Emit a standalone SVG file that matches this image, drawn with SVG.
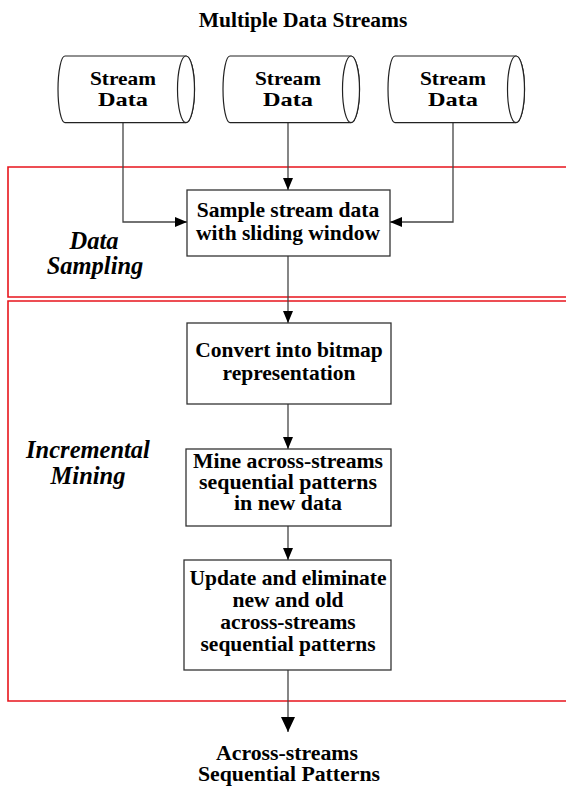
<svg xmlns="http://www.w3.org/2000/svg" width="566" height="789" viewBox="0 0 566 789">
  <style>
    .t { font-family: "Liberation Serif", "Times New Roman", serif; font-weight: bold; font-size: 21.5px; fill: #000; text-anchor: middle; }
    .cs { font-size: 19.5px; }
    .tight { font-size: 20px; }
    .lab { font-family: "Liberation Serif", "Times New Roman", serif; font-weight: bold; font-style: italic; font-size: 24.5px; fill: #000; text-anchor: middle; }
    .box { fill: #fff; stroke: #333; stroke-width: 1.3; }
    .cyl { fill: #fff; stroke: #222; stroke-width: 1.2; }
    .frame { fill: none; stroke: #e8141c; stroke-width: 1.6; }
    .wire { fill: none; stroke: #444; stroke-width: 1.3; }
  </style>
  <defs>
    <marker id="arr" viewBox="0 0 12 10" refX="12" refY="5" markerWidth="12" markerHeight="10" markerUnits="userSpaceOnUse" orient="auto">
      <path d="M0,0 L12,5 L0,10 Z" fill="#000"/>
    </marker>
    <marker id="arrBig" viewBox="0 0 15 14" refX="15" refY="7" markerWidth="15" markerHeight="14" markerUnits="userSpaceOnUse" orient="auto">
      <path d="M0,0 L15,7 L0,14 Z" fill="#000"/>
    </marker>
    <g id="cylShape">
      <path class="cyl" d="M65,56 L186,56 A8.5,33.3 0 0 1 186,122.6 L65,122.6 A7,33.3 0 0 1 65,56 Z"/>
      <ellipse class="cyl" cx="186" cy="89.3" rx="8.5" ry="33.3" fill="none"/>
    </g>
  </defs>

  <rect width="566" height="789" fill="#fff"/>

  <!-- title -->
  <text class="t" x="303" y="27">Multiple Data Streams</text>

  <!-- phase frames (open on the right) -->
  <g id="phase-sampling">
    <path class="frame" d="M570,167 L8,167 L8,297 L570,297"/>
    <text class="lab" x="94" y="249">Data</text>
    <text class="lab" x="95" y="274">Sampling</text>
  </g>
  <g id="phase-mining">
    <path class="frame" d="M570,301 L8,301 L8,701 L570,701"/>
    <text class="lab" x="88" y="458">Incremental</text>
    <text class="lab" x="88" y="484">Mining</text>
  </g>

  <!-- connectors -->
  <g id="connectors">
    <path class="wire" d="M123,122.6 L123,222 L187,222" marker-end="url(#arr)"/>
    <path class="wire" d="M288,122.6 L288,190" marker-end="url(#arr)"/>
    <path class="wire" d="M453,122.6 L453,222 L390,222" marker-end="url(#arr)"/>
    <path class="wire" d="M288,256 L288,323" marker-end="url(#arr)"/>
    <path class="wire" d="M288,404 L288,449" marker-end="url(#arr)"/>
    <path class="wire" d="M288,526 L288,560" marker-end="url(#arr)"/>
    <path class="wire" d="M288,670 L288,732" stroke="#000" marker-end="url(#arrBig)"/>
  </g>

  <!-- source streams -->
  <g id="stream-1">
    <use href="#cylShape"/>
    <text class="t cs" x="123" y="85" textLength="66" lengthAdjust="spacingAndGlyphs">Stream</text>
    <text class="t cs" x="123" y="106" textLength="50" lengthAdjust="spacingAndGlyphs">Data</text>
  </g>
  <g id="stream-2">
    <use href="#cylShape" transform="translate(165,0)"/>
    <text class="t cs" x="288" y="85" textLength="66" lengthAdjust="spacingAndGlyphs">Stream</text>
    <text class="t cs" x="288" y="106" textLength="50" lengthAdjust="spacingAndGlyphs">Data</text>
  </g>
  <g id="stream-3">
    <use href="#cylShape" transform="translate(330,0)"/>
    <text class="t cs" x="453" y="85" textLength="66" lengthAdjust="spacingAndGlyphs">Stream</text>
    <text class="t cs" x="453" y="106" textLength="50" lengthAdjust="spacingAndGlyphs">Data</text>
  </g>

  <!-- processing steps -->
  <g id="sample">
    <rect class="box" x="187" y="190" width="203" height="66"/>
    <text class="t" x="288" y="217">Sample stream data</text>
    <text class="t" x="288" y="240">with sliding window</text>
  </g>
  <g id="convert">
    <rect class="box" x="187" y="323" width="204" height="81"/>
    <text class="t" x="289" y="357">Convert into bitmap</text>
    <text class="t" x="289" y="380">representation</text>
  </g>
  <g id="mine">
    <rect class="box" x="186" y="449" width="205" height="77"/>
    <text class="t tight" x="288" y="468" textLength="190" lengthAdjust="spacingAndGlyphs">Mine across-streams</text>
    <text class="t tight" x="288" y="489" textLength="178" lengthAdjust="spacingAndGlyphs">sequential patterns</text>
    <text class="t tight" x="288" y="510" textLength="108" lengthAdjust="spacingAndGlyphs">in new data</text>
  </g>
  <g id="update">
    <rect class="box" x="184" y="560" width="207" height="110"/>
    <text class="t" x="288" y="585">Update and eliminate</text>
    <text class="t" x="288" y="607">new and old</text>
    <text class="t" x="288" y="629">across-streams</text>
    <text class="t" x="288" y="651">sequential patterns</text>
  </g>

  <!-- output -->
  <g id="output">
    <text class="t tight" x="287" y="760" textLength="142" lengthAdjust="spacingAndGlyphs">Across-streams</text>
    <text class="t tight" x="289" y="781" textLength="182" lengthAdjust="spacingAndGlyphs">Sequential Patterns</text>
  </g>
</svg>
